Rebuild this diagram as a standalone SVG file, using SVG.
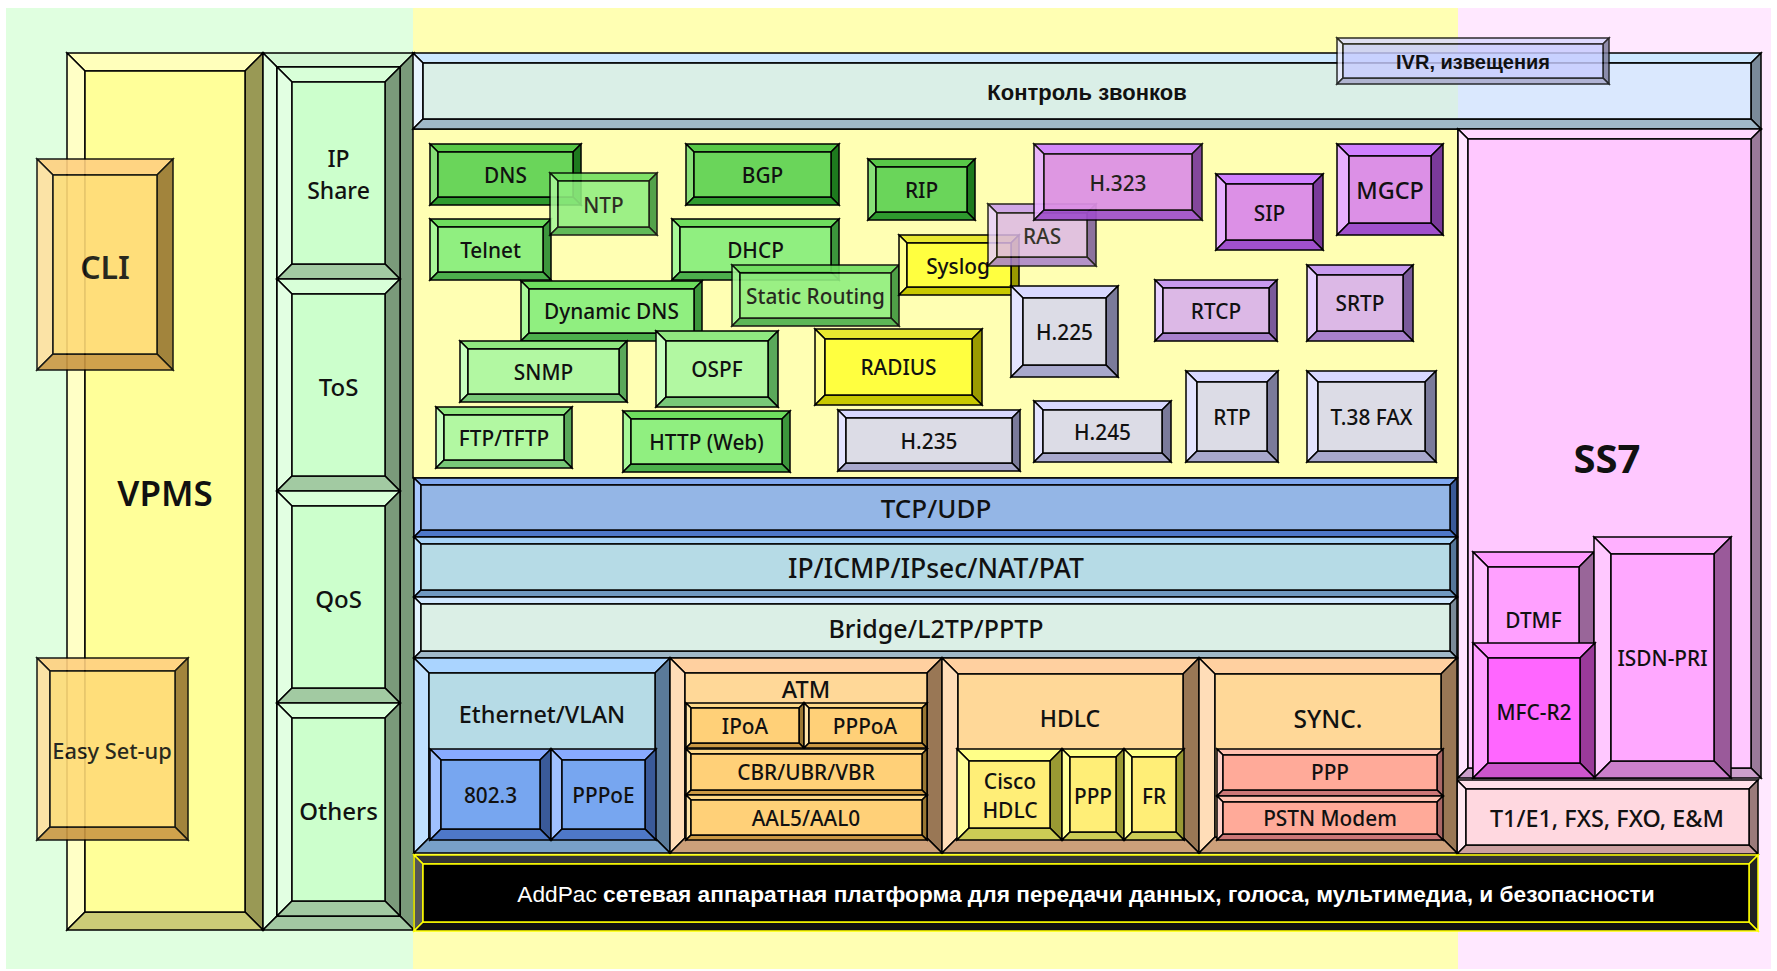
<svg xmlns="http://www.w3.org/2000/svg" width="1777" height="971" viewBox="0 0 1777 971">
<style>
.b polygon,.b rect{stroke:#000;stroke-width:1.5;stroke-linejoin:miter}
text{font-family:"Noto Sans","Open Sans","DejaVu Sans",sans-serif;font-size:20.8px;font-weight:500;fill:#111;text-anchor:middle;dominant-baseline:central}
.ru{font-family:"Liberation Sans",Arial,sans-serif;font-weight:700}
.vp .tp{fill:#FFFFBB}.vp .lf{fill:#FFFFC6}.vp .rt{fill:#999955}.vp .bt{fill:#CCCC77}.vp .fc{fill:#FFFF99}
.c2 .tp{fill:#D4F7D4}.c2 .lf{fill:#E2FFE2}.c2 .rt{fill:#7A9A7A}.c2 .bt{fill:#A2C8A2}.c2 .fc{fill:#CCFFCC}
.sg .tp{fill:#D8FFD8}.sg .lf{fill:#E2FFE2}.sg .rt{fill:#7A9A7A}.sg .bt{fill:#A2CAA2}.sg .fc{fill:#CCFFCC}
.or .tp{fill:#FFD080}.or .lf{fill:#FFE0A0}.or .rt{fill:#997733}.or .bt{fill:#CC9944}.or .fc{fill:#FFDB77}
.cb .tp{fill:#CCE8FF}.cb .lf{fill:#E8F4FF}.cb .rt{fill:#7A8A99}.cb .bt{fill:#A0B8C8}.cb .fc{fill:rgb(202,232,253);fill-opacity:.7}
.iv .tp{fill:#D8D8FF}.iv .lf{fill:#E8E8FF}.iv .rt{fill:#7A7A99}.iv .bt{fill:#A8A8CC}.iv .fc{fill:#C8CCFF}
.pk .tp{fill:#FFD8FF}.pk .lf{fill:#FFE4FF}.pk .rt{fill:#9A7A9A}.pk .bt{fill:#CCA0CC}.pk .fc{fill:#FFC8FF}
.m1 .tp{fill:#FF99FF}.m1 .lf{fill:#FFC0FF}.m1 .rt{fill:#996699}.m1 .bt{fill:#CC77CC}.m1 .fc{fill:#FFA0FF}
.m2 .tp{fill:#FFB0FF}.m2 .lf{fill:#FFC8FF}.m2 .rt{fill:#9A5A9A}.m2 .bt{fill:#CC80CC}.m2 .fc{fill:#FFA8FF}
.m3 .tp{fill:#FF88FF}.m3 .lf{fill:#FFA0FF}.m3 .rt{fill:#9A3A9A}.m3 .bt{fill:#CC55CC}.m3 .fc{fill:#FF66FF}
.t1 .tp{fill:#FFE0E8}.t1 .lf{fill:#FFE8F0}.t1 .rt{fill:#9A7A7A}.t1 .bt{fill:#CCA0A0}.t1 .fc{fill:#FFD8E0}
.bl .tp{fill:#80A8F0}.bl .lf{fill:#A8C8FF}.bl .rt{fill:#3A5A99}.bl .bt{fill:#4E78C8}.bl .fc{fill:#94B6E6}
.cy .tp{fill:#A8D4F8}.cy .lf{fill:#C0E4FF}.cy .rt{fill:#55779A}.cy .bt{fill:#7099C0}.cy .fc{fill:#B6DBE6}
.lc .tp{fill:#D0E8FF}.lc .lf{fill:#E4F4FF}.lc .rt{fill:#7A8A99}.lc .bt{fill:#A0B8C8}.lc .fc{fill:#DBEFE6}
.et .tp{fill:#AAD4FF}.et .lf{fill:#C0E0FF}.et .rt{fill:#5A7A99}.et .bt{fill:#78A0C8}.et .fc{fill:#B6DBE6}
.eb .tp{fill:#88AAFF}.eb .lf{fill:#A0C0FF}.eb .rt{fill:#3A5A99}.eb .bt{fill:#4E78C8}.eb .fc{fill:#77A6F0}
.at .tp{fill:#FFD0A0}.at .lf{fill:#FFDDB8}.at .rt{fill:#997755}.at .bt{fill:#CCA07A}.at .fc{fill:#FFD898}
.ao .tp{fill:#FFD888}.ao .lf{fill:#FFE4A8}.ao .rt{fill:#997733}.ao .bt{fill:#CC9944}.ao .fc{fill:#FFD078}
.hy .tp{fill:#FFFF88}.hy .lf{fill:#FFFF99}.hy .rt{fill:#999933}.hy .bt{fill:#CCCC55}.hy .fc{fill:#FFEE77}
.sa .tp{fill:#FFC0B0}.sa .lf{fill:#FFD0C8}.sa .rt{fill:#AA6666}.sa .bt{fill:#CC7777}.sa .fc{fill:#FFAA99}
.pl polygon,.pl rect{stroke:#FFFF00}.pl .tp{fill:#333}.pl .lf{fill:#555}.pl .rt{fill:#222}.pl .bt{fill:#111}.pl .fc{fill:#000}
.dg .tp{fill:#58C848}.dg .lf{fill:#88E078}.dg .rt{fill:#1E7A1E}.dg .bt{fill:#2E9A2E}.dg .fc{fill:#6AD55A}
.mg .tp{fill:#6EDD5E}.mg .lf{fill:#A8F898}.mg .rt{fill:#3C963C}.mg .bt{fill:#4CB04C}.mg .fc{fill:#90EF80}
.lg .tp{fill:#90E880}.lg .lf{fill:#C8FFC0}.lg .rt{fill:#5AA85A}.lg .bt{fill:#78C878}.lg .fc{fill:#B2F8A2}
.ye .tp{fill:#E8E830}.ye .lf{fill:#FFFF90}.ye .rt{fill:#9A9A00}.ye .bt{fill:#C8C800}.ye .fc{fill:#FFFF40}
.pp .tp{fill:#D080FF}.pp .lf{fill:#E8B0FF}.pp .rt{fill:#7A3A9A}.pp .bt{fill:#A050CC}.pp .fc{fill:#DC90E6}
.lp .tp{fill:#C89AEE}.lp .lf{fill:#E8D0FF}.lp .rt{fill:#7A5A9A}.lp .bt{fill:#A880CC}.lp .fc{fill:#DCB8E6}
.gy .tp{fill:#D8D8FF}.gy .lf{fill:#E4E4FF}.gy .rt{fill:#7A7A9A}.gy .bt{fill:#A8A8CC}.gy .fc{fill:#DCDCE6}
.big{font-size:24px}.mid{font-size:23.4px}
</style>
<rect x="0" y="0" width="1777" height="971" fill="#FFFFFF"/>
<rect x="6" y="8" width="407" height="961" fill="#E0FFE0"/>
<rect x="413" y="8" width="1045" height="961" fill="#FFFFB3"/>
<rect x="1458" y="8" width="313" height="961" fill="#FFE8FF"/>

<g id="vpms" class="b vp">
<polygon class="tp" points="67,53 263,53 245,71 85,71"/><polygon class="lf" points="67,53 85,71 85,912 67,930"/><polygon class="rt" points="263,53 263,930 245,912 245,71"/><polygon class="bt" points="67,930 85,912 245,912 263,930"/><rect class="fc" x="85" y="71" width="160" height="841"/>
<text x="165" y="492" style="font-size:35px;font-weight:600">VPMS</text>
</g>
<g id="cli" class="b or" opacity="0.9">
<polygon class="tp" points="37,159 173,159 157,175 53,175"/><polygon class="lf" points="37,159 53,175 53,354 37,370"/><polygon class="rt" points="173,159 173,370 157,354 157,175"/><polygon class="bt" points="37,370 53,354 157,354 173,370"/><rect class="fc" x="53" y="175" width="104" height="179"/>
<text x="105" y="266" style="font-size:32px;font-weight:600">CLI</text>
</g>
<g id="easy" class="b or" opacity="0.9">
<polygon class="tp" points="37,658 188,658 175,671 50,671"/><polygon class="lf" points="37,658 50,671 50,827 37,840"/><polygon class="rt" points="188,658 188,840 175,827 175,671"/><polygon class="bt" points="37,840 50,827 175,827 188,840"/><rect class="fc" x="50" y="671" width="125" height="156"/>
<text x="112" y="750" style="font-size:21.8px">Easy Set-up</text>
</g>

<g id="col2" class="b c2">
<polygon class="tp" points="263,53 414,53 400,67 277,67"/><polygon class="lf" points="263,53 277,67 277,916 263,930"/><polygon class="rt" points="414,53 414,930 400,916 400,67"/><polygon class="bt" points="263,930 277,916 400,916 414,930"/><rect class="fc" x="277" y="67" width="123" height="849"/>
</g>
<g id="ipshare" class="b sg">
<polygon class="tp" points="277,67 400,67 385,82 292,82"/><polygon class="lf" points="277,67 292,82 292,264 277,279"/><polygon class="rt" points="400,67 400,279 385,264 385,82"/><polygon class="bt" points="277,279 292,264 385,264 400,279"/><rect class="fc" x="292" y="82" width="93" height="182"/>
<text x="338.5" y="158" style="font-size:23px">IP<tspan x="338.5" dy="32">Share</tspan></text>
</g>
<g id="tos" class="b sg">
<polygon class="tp" points="277,279 400,279 385,294 292,294"/><polygon class="lf" points="277,279 292,294 292,476 277,491"/><polygon class="rt" points="400,279 400,491 385,476 385,294"/><polygon class="bt" points="277,491 292,476 385,476 400,491"/><rect class="fc" x="292" y="294" width="93" height="182"/>
<text class="big" x="338.5" y="386">ToS</text>
</g>
<g id="qos" class="b sg">
<polygon class="tp" points="277,491 400,491 385,506 292,506"/><polygon class="lf" points="277,491 292,506 292,688 277,703"/><polygon class="rt" points="400,491 400,703 385,688 385,506"/><polygon class="bt" points="277,703 292,688 385,688 400,703"/><rect class="fc" x="292" y="506" width="93" height="182"/>
<text class="big" x="338.5" y="598">QoS</text>
</g>
<g id="others" class="b sg">
<polygon class="tp" points="277,703 400,703 385,718 292,718"/><polygon class="lf" points="277,703 292,718 292,901 277,916"/><polygon class="rt" points="400,703 400,916 385,901 385,718"/><polygon class="bt" points="277,916 292,901 385,901 400,916"/><rect class="fc" x="292" y="718" width="93" height="183"/>
<text class="big" x="338.5" y="810">Others</text>
</g>

<rect id="panel" class="b" x="413" y="129" width="1045" height="349" fill="#FFFFB3" stroke="#000" stroke-width="1.5"/>

<g id="control" class="b cb">
<polygon class="tp" points="413,53 1761,53 1751,63 423,63"/><polygon class="lf" points="413,53 423,63 423,119 413,129"/><polygon class="rt" points="1761,53 1761,129 1751,119 1751,63"/><polygon class="bt" points="413,129 423,119 1751,119 1761,129"/><rect class="fc" x="423" y="63" width="1328" height="56"/>
<text class="ru" x="1087" y="92" style="font-size:22px">Контроль звонков</text>
</g>
<g id="ivr" class="b iv" opacity="0.82">
<polygon class="tp" points="1337,38 1609,38 1603,44 1343,44"/><polygon class="lf" points="1337,38 1343,44 1343,78 1337,84"/><polygon class="rt" points="1609,38 1609,84 1603,78 1603,44"/><polygon class="bt" points="1337,84 1343,78 1603,78 1609,84"/><rect class="fc" x="1343" y="44" width="260" height="34"/>
</g>
<text class="ru" x="1473" y="62" style="font-size:20px">IVR, <tspan>извещения</tspan></text>

<g id="ss7" class="b pk">
<polygon class="tp" points="1458,129 1761,129 1751,139 1468,139"/><polygon class="lf" points="1458,129 1468,139 1468,768 1458,778"/><polygon class="rt" points="1761,129 1761,778 1751,768 1751,139"/><polygon class="bt" points="1458,778 1468,768 1751,768 1761,778"/><rect class="fc" x="1468" y="139" width="283" height="629"/>
<text x="1607" y="457" style="font-size:40px;font-weight:700">SS7</text>
</g>
<g id="dtmf" class="b m1">
<polygon class="tp" points="1473,552 1594,552 1579,567 1488,567"/><polygon class="lf" points="1473,552 1488,567 1488,763 1473,778"/><polygon class="rt" points="1594,552 1594,778 1579,763 1579,567"/><polygon class="bt" points="1473,778 1488,763 1579,763 1594,778"/><rect class="fc" x="1488" y="567" width="91" height="196"/>
<text x="1533.5" y="620">DTMF</text>
</g>
<g id="isdn" class="b m2">
<polygon class="tp" points="1594,537 1731,537 1714,554 1611,554"/><polygon class="lf" points="1594,537 1611,554 1611,761 1594,778"/><polygon class="rt" points="1731,537 1731,778 1714,761 1714,554"/><polygon class="bt" points="1594,778 1611,761 1714,761 1731,778"/><rect class="fc" x="1611" y="554" width="103" height="207"/>
<text x="1662.5" y="658">ISDN-PRI</text>
</g>
<g id="mfc" class="b m3">
<polygon class="tp" points="1473,643 1595,643 1580,658 1488,658"/><polygon class="lf" points="1473,643 1488,658 1488,763 1473,778"/><polygon class="rt" points="1595,643 1595,778 1580,763 1580,658"/><polygon class="bt" points="1473,778 1488,763 1580,763 1595,778"/><rect class="fc" x="1488" y="658" width="92" height="105"/>
<text x="1534" y="712">MFC-R2</text>
</g>
<g id="t1e1" class="b t1">
<polygon class="tp" points="1457,780 1758,780 1749,789 1466,789"/><polygon class="lf" points="1457,780 1466,789 1466,845 1457,854"/><polygon class="rt" points="1758,780 1758,854 1749,845 1749,789"/><polygon class="bt" points="1457,854 1466,845 1749,845 1758,854"/><rect class="fc" x="1466" y="789" width="283" height="56"/>
<text class="mid" x="1607" y="818">T1/E1, FXS, FXO, E&amp;M</text>
</g>

<g id="tcp" class="b bl">
<polygon class="tp" points="414,478 1457,478 1450,485 421,485"/><polygon class="lf" points="414,478 421,485 421,530 414,537"/><polygon class="rt" points="1457,478 1457,537 1450,530 1450,485"/><polygon class="bt" points="414,537 421,530 1450,530 1457,537"/><rect class="fc" x="421" y="485" width="1029" height="45"/>
<text x="936" y="508" style="font-size:26px">TCP/UDP</text>
</g>
<g id="ip" class="b cy">
<polygon class="tp" points="414,537 1457,537 1450,544 421,544"/><polygon class="lf" points="414,537 421,544 421,590 414,597"/><polygon class="rt" points="1457,537 1457,597 1450,590 1450,544"/><polygon class="bt" points="414,597 421,590 1450,590 1457,597"/><rect class="fc" x="421" y="544" width="1029" height="46"/>
<text x="936" y="568" style="font-size:26.5px">IP/ICMP/IPsec/NAT/PAT</text>
</g>
<g id="bridge" class="b lc">
<polygon class="tp" points="414,597 1457,597 1450,604 421,604"/><polygon class="lf" points="414,597 421,604 421,651 414,658"/><polygon class="rt" points="1457,597 1457,658 1450,651 1450,604"/><polygon class="bt" points="414,658 421,651 1450,651 1457,658"/><rect class="fc" x="421" y="604" width="1029" height="47"/>
<text x="936" y="628" style="font-size:25px">Bridge/L2TP/PPTP</text>
</g>

<g id="ethernet" class="b et">
<polygon class="tp" points="414,658 670,658 655,673 429,673"/><polygon class="lf" points="414,658 429,673 429,838 414,853"/><polygon class="rt" points="670,658 670,853 655,838 655,673"/><polygon class="bt" points="414,853 429,838 655,838 670,853"/><rect class="fc" x="429" y="673" width="226" height="165"/>
<text class="mid" x="542" y="714">Ethernet/VLAN</text>
</g>
<g id="e8023" class="b eb">
<polygon class="tp" points="430,749 551,749 540,760 441,760"/><polygon class="lf" points="430,749 441,760 441,829 430,840"/><polygon class="rt" points="551,749 551,840 540,829 540,760"/><polygon class="bt" points="430,840 441,829 540,829 551,840"/><rect class="fc" x="441" y="760" width="99" height="69"/>
<text x="490.5" y="795">802.3</text>
</g>
<g id="pppoe" class="b eb">
<polygon class="tp" points="551,749 656,749 645,760 562,760"/><polygon class="lf" points="551,749 562,760 562,829 551,840"/><polygon class="rt" points="656,749 656,840 645,829 645,760"/><polygon class="bt" points="551,840 562,829 645,829 656,840"/><rect class="fc" x="562" y="760" width="83" height="69"/>
<text x="603.5" y="795">PPPoE</text>
</g>
<g id="atm" class="b at">
<polygon class="tp" points="670,658 942,658 927,673 685,673"/><polygon class="lf" points="670,658 685,673 685,838 670,853"/><polygon class="rt" points="942,658 942,853 927,838 927,673"/><polygon class="bt" points="670,853 685,838 927,838 942,853"/><rect class="fc" x="685" y="673" width="242" height="165"/>
<text class="mid" x="806" y="689">ATM</text>
</g>
<g id="ipoa" class="b ao">
<polygon class="tp" points="686,703 804,703 799,708 691,708"/><polygon class="lf" points="686,703 691,708 691,743 686,748"/><polygon class="rt" points="804,703 804,748 799,743 799,708"/><polygon class="bt" points="686,748 691,743 799,743 804,748"/><rect class="fc" x="691" y="708" width="108" height="35"/>
<text x="745" y="726">IPoA</text>
</g>
<g id="pppoa" class="b ao">
<polygon class="tp" points="804,703 927,703 922,708 809,708"/><polygon class="lf" points="804,703 809,708 809,743 804,748"/><polygon class="rt" points="927,703 927,748 922,743 922,708"/><polygon class="bt" points="804,748 809,743 922,743 927,748"/><rect class="fc" x="809" y="708" width="113" height="35"/>
<text x="865" y="726">PPPoA</text>
</g>
<g id="cbr" class="b ao">
<polygon class="tp" points="686,749 927,749 922,754 691,754"/><polygon class="lf" points="686,749 691,754 691,790 686,795"/><polygon class="rt" points="927,749 927,795 922,790 922,754"/><polygon class="bt" points="686,795 691,790 922,790 927,795"/><rect class="fc" x="691" y="754" width="231" height="36"/>
<text x="806" y="772">CBR/UBR/VBR</text>
</g>
<g id="aal5" class="b ao">
<polygon class="tp" points="686,795 927,795 922,800 691,800"/><polygon class="lf" points="686,795 691,800 691,835 686,840"/><polygon class="rt" points="927,795 927,840 922,835 922,800"/><polygon class="bt" points="686,840 691,835 922,835 927,840"/><rect class="fc" x="691" y="800" width="231" height="35"/>
<text x="806" y="818">AAL5/AAL0</text>
</g>
<g id="hdlc" class="b at">
<polygon class="tp" points="942,658 1199,658 1183,674 958,674"/><polygon class="lf" points="942,658 958,674 958,837 942,853"/><polygon class="rt" points="1199,658 1199,853 1183,837 1183,674"/><polygon class="bt" points="942,853 958,837 1183,837 1199,853"/><rect class="fc" x="958" y="674" width="225" height="163"/>
<text x="1070" y="718" style="font-size:23px">HDLC</text>
</g>
<g id="ciscohdlc" class="b hy">
<polygon class="tp" points="957,749 1062,749 1050,761 969,761"/><polygon class="lf" points="957,749 969,761 969,828 957,840"/><polygon class="rt" points="1062,749 1062,840 1050,828 1050,761"/><polygon class="bt" points="957,840 969,828 1050,828 1062,840"/><rect class="fc" x="969" y="761" width="81" height="67"/>
<text x="1010" y="781" style="font-size:21px">Cisco<tspan x="1010" dy="29">HDLC</tspan></text>
</g>
<g id="hppp" class="b hy">
<polygon class="tp" points="1062,749 1124,749 1116,757 1070,757"/><polygon class="lf" points="1062,749 1070,757 1070,832 1062,840"/><polygon class="rt" points="1124,749 1124,840 1116,832 1116,757"/><polygon class="bt" points="1062,840 1070,832 1116,832 1124,840"/><rect class="fc" x="1070" y="757" width="46" height="75"/>
<text x="1093" y="796">PPP</text>
</g>
<g id="fr" class="b hy">
<polygon class="tp" points="1124,749 1184,749 1176,757 1132,757"/><polygon class="lf" points="1124,749 1132,757 1132,832 1124,840"/><polygon class="rt" points="1184,749 1184,840 1176,832 1176,757"/><polygon class="bt" points="1124,840 1132,832 1176,832 1184,840"/><rect class="fc" x="1132" y="757" width="44" height="75"/>
<text x="1154" y="796">FR</text>
</g>
<g id="sync" class="b at">
<polygon class="tp" points="1199,658 1457,658 1441,674 1215,674"/><polygon class="lf" points="1199,658 1215,674 1215,837 1199,853"/><polygon class="rt" points="1457,658 1457,853 1441,837 1441,674"/><polygon class="bt" points="1199,853 1215,837 1441,837 1457,853"/><rect class="fc" x="1215" y="674" width="226" height="163"/>
<text x="1328" y="718" style="font-size:24.5px">SYNC.</text>
</g>
<g id="sppp" class="b sa">
<polygon class="tp" points="1217,749 1443,749 1437,755 1223,755"/><polygon class="lf" points="1217,749 1223,755 1223,790 1217,796"/><polygon class="rt" points="1443,749 1443,796 1437,790 1437,755"/><polygon class="bt" points="1217,796 1223,790 1437,790 1443,796"/><rect class="fc" x="1223" y="755" width="214" height="35"/>
<text x="1330" y="772">PPP</text>
</g>
<g id="pstn" class="b sa">
<polygon class="tp" points="1217,796 1443,796 1437,802 1223,802"/><polygon class="lf" points="1217,796 1223,802 1223,834 1217,840"/><polygon class="rt" points="1443,796 1443,840 1437,834 1437,802"/><polygon class="bt" points="1217,840 1223,834 1437,834 1443,840"/><rect class="fc" x="1223" y="802" width="214" height="32"/>
<text x="1330" y="818">PSTN Modem</text>
</g>

<g id="platform" class="b pl">
<polygon class="tp" points="414,855 1758,855 1749,864 423,864"/><polygon class="lf" points="414,855 423,864 423,922 414,931"/><polygon class="rt" points="1758,855 1758,931 1749,922 1749,864"/><polygon class="bt" points="414,931 423,922 1749,922 1758,931"/><rect class="fc" x="423" y="864" width="1326" height="58"/>
<text class="ru" x="1086" y="894" style="font-size:22.7px;fill:#FFFFFF"><tspan style="font-weight:400">AddPac</tspan> сетевая аппаратная платформа для передачи данных, голоса, мультимедиа, и безопасности</text>
</g>

<g id="dns" class="b dg">
<polygon class="tp" points="430,144 581,144 573,152 438,152"/><polygon class="lf" points="430,144 438,152 438,197 430,205"/><polygon class="rt" points="581,144 581,205 573,197 573,152"/><polygon class="bt" points="430,205 438,197 573,197 581,205"/><rect class="fc" x="438" y="152" width="135" height="45"/>
<text x="505.5" y="175">DNS</text>
</g>
<g id="bgp" class="b dg">
<polygon class="tp" points="686,144 839,144 831,152 694,152"/><polygon class="lf" points="686,144 694,152 694,197 686,205"/><polygon class="rt" points="839,144 839,205 831,197 831,152"/><polygon class="bt" points="686,205 694,197 831,197 839,205"/><rect class="fc" x="694" y="152" width="137" height="45"/>
<text x="762.5" y="175">BGP</text>
</g>
<g id="rip" class="b dg">
<polygon class="tp" points="868,159 975,159 967,167 876,167"/><polygon class="lf" points="868,159 876,167 876,212 868,220"/><polygon class="rt" points="975,159 975,220 967,212 967,167"/><polygon class="bt" points="868,220 876,212 967,212 975,220"/><rect class="fc" x="876" y="167" width="91" height="45"/>
<text x="921.5" y="190">RIP</text>
</g>
<g id="telnet" class="b mg">
<polygon class="tp" points="430,219 551,219 543,227 438,227"/><polygon class="lf" points="430,219 438,227 438,272 430,280"/><polygon class="rt" points="551,219 551,280 543,272 543,227"/><polygon class="bt" points="430,280 438,272 543,272 551,280"/><rect class="fc" x="438" y="227" width="105" height="45"/>
<text x="490.5" y="250">Telnet</text>
</g>
<g id="ntp" class="b mg" opacity="0.88">
<polygon class="tp" points="550,173 657,173 649,181 558,181"/><polygon class="lf" points="550,173 558,181 558,227 550,235"/><polygon class="rt" points="657,173 657,235 649,227 649,181"/><polygon class="bt" points="550,235 558,227 649,227 657,235"/><rect class="fc" x="558" y="181" width="91" height="46"/>
<text x="603.5" y="205">NTP</text>
</g>
<g id="dhcp" class="b mg">
<polygon class="tp" points="672,219 839,219 831,227 680,227"/><polygon class="lf" points="672,219 680,227 680,272 672,280"/><polygon class="rt" points="839,219 839,280 831,272 831,227"/><polygon class="bt" points="672,280 680,272 831,272 839,280"/><rect class="fc" x="680" y="227" width="151" height="45"/>
<text x="755.5" y="250">DHCP</text>
</g>
<g id="ddns" class="b mg">
<polygon class="tp" points="521,281 702,281 694,289 529,289"/><polygon class="lf" points="521,281 529,289 529,333 521,341"/><polygon class="rt" points="702,281 702,341 694,333 694,289"/><polygon class="bt" points="521,341 529,333 694,333 702,341"/><rect class="fc" x="529" y="289" width="165" height="44"/>
<text x="611.5" y="311">Dynamic DNS</text>
</g>
<g id="static" class="b mg" opacity="0.9">
<polygon class="tp" points="732,265 899,265 891,273 740,273"/><polygon class="lf" points="732,265 740,273 740,318 732,326"/><polygon class="rt" points="899,265 899,326 891,318 891,273"/><polygon class="bt" points="732,326 740,318 891,318 899,326"/><rect class="fc" x="740" y="273" width="151" height="45"/>
<text x="815.5" y="296">Static Routing</text>
</g>
<g id="snmp" class="b lg">
<polygon class="tp" points="460,341 627,341 619,349 468,349"/><polygon class="lf" points="460,341 468,349 468,394 460,402"/><polygon class="rt" points="627,341 627,402 619,394 619,349"/><polygon class="bt" points="460,402 468,394 619,394 627,402"/><rect class="fc" x="468" y="349" width="151" height="45"/>
<text x="543.5" y="372">SNMP</text>
</g>
<g id="ospf" class="b lg">
<polygon class="tp" points="656,331 778,331 768,341 666,341"/><polygon class="lf" points="656,331 666,341 666,397 656,407"/><polygon class="rt" points="778,331 778,407 768,397 768,341"/><polygon class="bt" points="656,407 666,397 768,397 778,407"/><rect class="fc" x="666" y="341" width="102" height="56"/>
<text x="717" y="369">OSPF</text>
</g>
<g id="ftp" class="b lg">
<polygon class="tp" points="436,407 572,407 564,415 444,415"/><polygon class="lf" points="436,407 444,415 444,460 436,468"/><polygon class="rt" points="572,407 572,468 564,460 564,415"/><polygon class="bt" points="436,468 444,460 564,460 572,468"/><rect class="fc" x="444" y="415" width="120" height="45"/>
<text x="504" y="438">FTP/TFTP</text>
</g>
<g id="http" class="b mg">
<polygon class="tp" points="623,411 790,411 782,419 631,419"/><polygon class="lf" points="623,411 631,419 631,464 623,472"/><polygon class="rt" points="790,411 790,472 782,464 782,419"/><polygon class="bt" points="623,472 631,464 782,464 790,472"/><rect class="fc" x="631" y="419" width="151" height="45"/>
<text x="706.5" y="442">HTTP (Web)</text>
</g>
<g id="syslog" class="b ye">
<polygon class="tp" points="899,235 1019,235 1011,243 907,243"/><polygon class="lf" points="899,235 907,243 907,287 899,295"/><polygon class="rt" points="1019,235 1019,295 1011,287 1011,243"/><polygon class="bt" points="899,295 907,287 1011,287 1019,295"/><rect class="fc" x="907" y="243" width="104" height="44"/>
<text x="958" y="266">Syslog</text>
</g>
<g id="radius" class="b ye">
<polygon class="tp" points="815,329 982,329 972,339 825,339"/><polygon class="lf" points="815,329 825,339 825,395 815,405"/><polygon class="rt" points="982,329 982,405 972,395 972,339"/><polygon class="bt" points="815,405 825,395 972,395 982,405"/><rect class="fc" x="825" y="339" width="147" height="56"/>
<text x="898.5" y="367">RADIUS</text>
</g>
<g id="ras" class="b lp" opacity="0.85">
<polygon class="tp" points="988,204 1096,204 1087,213 997,213"/><polygon class="lf" points="988,204 997,213 997,257 988,266"/><polygon class="rt" points="1096,204 1096,266 1087,257 1087,213"/><polygon class="bt" points="988,266 997,257 1087,257 1096,266"/><rect class="fc" x="997" y="213" width="90" height="44"/>
<text x="1042" y="236">RAS</text>
</g>
<g id="h323" class="b pp" opacity="0.93">
<polygon class="tp" points="1034,144 1202,144 1192,154 1044,154"/><polygon class="lf" points="1034,144 1044,154 1044,210 1034,220"/><polygon class="rt" points="1202,144 1202,220 1192,210 1192,154"/><polygon class="bt" points="1034,220 1044,210 1192,210 1202,220"/><rect class="fc" x="1044" y="154" width="148" height="56"/>
<text x="1118" y="183">H.323</text>
</g>
<g id="sip" class="b pp">
<polygon class="tp" points="1216,174 1323,174 1313,184 1226,184"/><polygon class="lf" points="1216,174 1226,184 1226,240 1216,250"/><polygon class="rt" points="1323,174 1323,250 1313,240 1313,184"/><polygon class="bt" points="1216,250 1226,240 1313,240 1323,250"/><rect class="fc" x="1226" y="184" width="87" height="56"/>
<text x="1269.5" y="213">SIP</text>
</g>
<g id="mgcp" class="b pp">
<polygon class="tp" points="1337,144 1443,144 1431,156 1349,156"/><polygon class="lf" points="1337,144 1349,156 1349,223 1337,235"/><polygon class="rt" points="1443,144 1443,235 1431,223 1431,156"/><polygon class="bt" points="1337,235 1349,223 1431,223 1443,235"/><rect class="fc" x="1349" y="156" width="82" height="67"/>
<text class="mid" x="1390" y="190">MGCP</text>
</g>
<g id="rtcp" class="b lp">
<polygon class="tp" points="1155,280 1277,280 1269,288 1163,288"/><polygon class="lf" points="1155,280 1163,288 1163,333 1155,341"/><polygon class="rt" points="1277,280 1277,341 1269,333 1269,288"/><polygon class="bt" points="1155,341 1163,333 1269,333 1277,341"/><rect class="fc" x="1163" y="288" width="106" height="45"/>
<text x="1216" y="311">RTCP</text>
</g>
<g id="srtp" class="b lp">
<polygon class="tp" points="1307,265 1413,265 1403,275 1317,275"/><polygon class="lf" points="1307,265 1317,275 1317,331 1307,341"/><polygon class="rt" points="1413,265 1413,341 1403,331 1403,275"/><polygon class="bt" points="1307,341 1317,331 1403,331 1413,341"/><rect class="fc" x="1317" y="275" width="86" height="56"/>
<text x="1360" y="303">SRTP</text>
</g>
<g id="h225" class="b gy">
<polygon class="tp" points="1011,286 1118,286 1106,298 1023,298"/><polygon class="lf" points="1011,286 1023,298 1023,365 1011,377"/><polygon class="rt" points="1118,286 1118,377 1106,365 1106,298"/><polygon class="bt" points="1011,377 1023,365 1106,365 1118,377"/><rect class="fc" x="1023" y="298" width="83" height="67"/>
<text x="1064.5" y="332">H.225</text>
</g>
<g id="h235" class="b gy">
<polygon class="tp" points="838,410 1020,410 1012,418 846,418"/><polygon class="lf" points="838,410 846,418 846,463 838,471"/><polygon class="rt" points="1020,410 1020,471 1012,463 1012,418"/><polygon class="bt" points="838,471 846,463 1012,463 1020,471"/><rect class="fc" x="846" y="418" width="166" height="45"/>
<text x="929" y="441">H.235</text>
</g>
<g id="h245" class="b gy">
<polygon class="tp" points="1034,401 1171,401 1162,410 1043,410"/><polygon class="lf" points="1034,401 1043,410 1043,453 1034,462"/><polygon class="rt" points="1171,401 1171,462 1162,453 1162,410"/><polygon class="bt" points="1034,462 1043,453 1162,453 1171,462"/><rect class="fc" x="1043" y="410" width="119" height="43"/>
<text x="1102.5" y="432">H.245</text>
</g>
<g id="rtp" class="b gy">
<polygon class="tp" points="1186,371 1278,371 1267,382 1197,382"/><polygon class="lf" points="1186,371 1197,382 1197,451 1186,462"/><polygon class="rt" points="1278,371 1278,462 1267,451 1267,382"/><polygon class="bt" points="1186,462 1197,451 1267,451 1278,462"/><rect class="fc" x="1197" y="382" width="70" height="69"/>
<text x="1232" y="417">RTP</text>
</g>
<g id="t38" class="b gy">
<polygon class="tp" points="1307,371 1436,371 1425,382 1318,382"/><polygon class="lf" points="1307,371 1318,382 1318,451 1307,462"/><polygon class="rt" points="1436,371 1436,462 1425,451 1425,382"/><polygon class="bt" points="1307,462 1318,451 1425,451 1436,462"/><rect class="fc" x="1318" y="382" width="107" height="69"/>
<text x="1371.5" y="417">T.38 FAX</text>
</g>
</svg>
